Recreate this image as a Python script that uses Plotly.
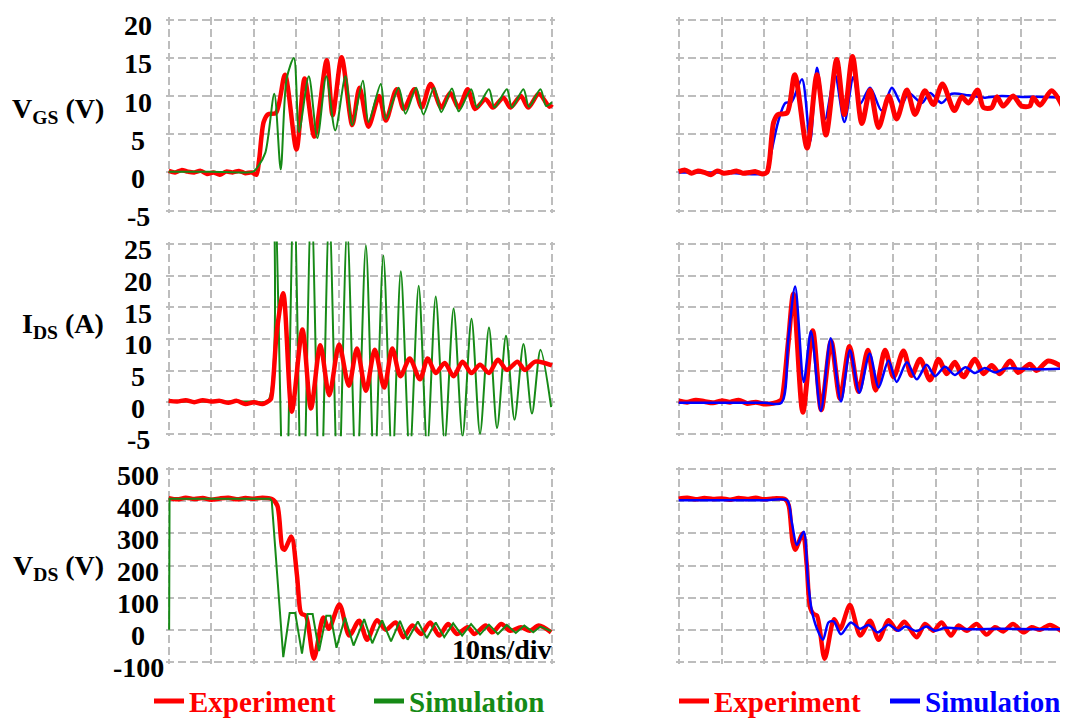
import plotly.graph_objects as go

# ---------------- data (time in ns) ----------------
vgs_ticks = [20, 15, 10, 5, 0, -5]
ids_ticks = [25, 20, 15, 10, 5, 0, -5]
vds_ticks = [500, 400, 300, 200, 100, 0, -100]

exp_vgs_l = [(0, 0.2), (1.5, 0.0), (3, 0.3), (4.5, 0.1), (6, 0.0), (7.5, 0.2), (9, -0.2), (10.5, 0.0),
             (12, -0.3), (13.5, 0.1), (15, 0.0), (16.5, 0.2), (18, -0.1), (19.5, 0.0), (20.6, -0.3),
             (21.2, 1.5), (22.3, 6.6), (23.3, 7.6), (25.2, 7.8), (27.3, 12.8), (30.0, 3.0), (31.9, 12.3),
             (34.2, 4.7), (37.1, 14.7), (38.5, 7.5), (40.6, 15.1), (43.1, 6.2), (44.8, 11.1), (46.9, 6.0),
             (49.4, 10.0), (51.0, 6.8), (53.5, 10.9), (55.2, 8.3), (57.7, 10.9), (59.4, 8.5), (61.5, 11.6),
             (64.0, 8.5), (66.1, 10.4), (68.1, 8.5), (70.2, 10.9), (71.9, 8.3), (74.4, 9.6), (76.1, 8.5),
             (78.6, 9.8), (80.2, 8.5), (82.7, 10.0), (84.4, 8.5), (86.9, 10.3), (89.4, 8.6), (90, 8.9)]

sim_vgs_l = [(0, 0.1), (10, 0.1), (19.8, 0.1), (21.0, 0.8), (22.7, 2.6), (24.8, 10.3), (26.3, 0.4),
             (27.7, 12.3), (29.4, 15.0), (30.6, 5.3), (32.9, 12.6), (34.9, 4.5), (37.0, 12.6), (39.1, 5.5),
             (41.5, 12.6), (43.1, 6.2), (45.6, 12.0), (46.9, 6.6), (49.8, 11.6), (51.0, 7.0), (54.0, 11.1),
             (55.6, 7.7), (58.1, 11.1), (59.8, 7.6), (62.3, 11.1), (64.0, 7.9), (66.5, 11.0), (68.1, 8.0),
             (71.0, 10.9), (72.4, 8.5), (75.2, 10.9), (76.5, 8.5), (79.4, 10.9), (80.6, 8.5), (83.3, 10.9),
             (84.6, 8.6), (87.3, 10.9), (88.6, 8.7), (90, 9.2)]

exp_vgs_r = [(0, 0.1), (1.5, 0.3), (3, -0.1), (4.5, 0.2), (6, 0.0), (7.5, -0.3), (9, 0.2), (10.5, -0.1),
             (12, 0.0), (13.5, 0.2), (15, -0.1), (16.5, 0.0), (18, 0.1), (19.5, -0.2), (20.6, 0.0),
             (21.2, 1.5), (22.2, 6.6), (23.2, 7.6), (25.3, 7.8), (27.1, 12.8), (30.0, 3.2), (32.3, 12.8),
             (34.4, 4.9), (36.9, 14.8), (38.7, 7.6), (40.6, 15.2), (42.8, 6.4), (44.7, 10.8), (46.7, 5.9),
             (49.1, 10.0), (50.9, 7.0), (53.3, 10.8), (55.2, 7.6), (57.5, 10.7), (59.5, 8.9), (61.6, 11.6),
             (64.4, 8.1), (66.1, 9.9), (67.7, 9.1), (69.8, 10.8), (71.2, 8.5), (73.1, 8.5), (74.3, 9.9),
             (75.8, 8.7), (78.1, 10.0), (80.1, 8.7), (82.0, 8.7), (82.8, 9.8), (84.4, 8.8), (87.1, 10.7),
             (89.8, 8.5)]

sim_vgs_r = [(0, 0.0), (10, 0.0), (20.6, 0.0), (21.4, 2.0), (23.3, 6.8), (24.9, 9.1), (26.3, 9.2),
             (28.8, 12.2), (30.7, 4.0), (32.3, 13.7), (34.2, 7.0), (36.5, 12.8), (38.7, 6.6), (40.8, 12.5),
             (42.4, 9.0), (44.7, 11.1), (47.4, 8.1), (49.8, 11.1), (52.1, 8.9), (53.7, 10.4), (56.8, 9.1),
             (58.7, 10.4), (61.4, 9.1), (63.8, 10.3), (67.7, 10.1), (71.5, 9.8), (75.4, 10.0), (79.3, 9.9),
             (83.2, 9.9), (90, 9.8)]

exp_ids_l = [(0, 0.2), (2, 0.1), (4, 0.3), (6, 0.0), (8, 0.3), (10, 0.1), (12, 0.2), (14, -0.1), (16, 0.2),
             (18, -0.3), (20, 0.0), (22, -0.3), (23.5, 0.2), (24.0, 0.5), (25.4, 11.3), (26.9, 17.2),
             (28.9, -1.5), (31.4, 11.5), (33.4, -1.0), (35.6, 9.0), (37.7, 1.1), (40.0, 9.1), (42.3, 2.6),
             (44.2, 8.5), (46.3, 1.8), (48.4, 8.3), (50.6, 2.3), (52.5, 8.5), (54.4, 4.1), (56.6, 6.9),
             (59.0, 3.6), (60.8, 6.9), (62.7, 4.6), (64.8, 6.2), (66.9, 4.1), (69.0, 6.4), (71.1, 4.6),
             (73.1, 5.9), (75.2, 4.6), (77.3, 6.7), (79.4, 5.1), (81.9, 6.4), (83.6, 5.1), (86.1, 6.4),
             (90, 5.8)]

sim_ids_l = [(0, 0.1), (10, 0.1), (20, 0.1), (23.3, 0.2), (24.8, 36), (27.3, -25), (29.4, 34), (31.4, -22),
             (33.5, 32), (35.6, -19), (37.7, 30), (39.8, -16), (41.9, 27.5), (44.1, -14), (46.3, 24.8),
             (48.3, -12), (50.4, 23.2), (52.5, -10), (54.5, 20.7), (56.6, -8.5), (58.7, 18.4), (60.7, -7.2),
             (62.7, 16.7), (64.8, -6.2), (66.9, 14.8), (69.0, -5.4), (71.1, 13.2), (73.1, -5.0), (75.2, 11.8),
             (77.1, -4.1), (79.2, 10.5), (81.2, -2.8), (83.3, 9.2), (85.3, -1.8), (87.3, 8.3), (89.8, -0.8)]

exp_ids_r = [(0, 0.2), (2, 0.0), (4, 0.3), (6, 0.1), (8, -0.1), (10, 0.2), (12, 0.0), (14, 0.3), (16, -0.2),
             (18, 0.0), (20, -0.3), (22, -0.2), (23.7, 0.2), (24.1, 0.5), (25.6, 9.5), (26.8, 17.1),
             (29.0, -1.6), (31.3, 11.3), (33.3, -1.2), (35.6, 9.6), (37.7, 0.6), (39.9, 8.8), (42.0, 1.7),
             (44.2, 8.2), (46.0, 1.9), (48.2, 8.2), (50.2, 4.0), (52.5, 8.1), (54.4, 4.2), (56.4, 6.8),
             (58.7, 3.5), (60.7, 6.8), (62.6, 4.5), (64.5, 6.3), (66.5, 4.0), (69.2, 6.8), (71.2, 4.5),
             (73.1, 5.8), (75.0, 4.5), (77.4, 6.5), (79.3, 4.7), (82.0, 6.0), (83.6, 5.0), (86.3, 6.5),
             (89.8, 5.5)]

sim_ids_r = [(0, -0.1), (10, -0.1), (20, -0.1), (24.0, -0.1), (25.6, 10.0), (27.2, 18.3), (29.2, 3.2),
             (30.9, 11.2), (33.2, -1.4), (35.5, 10.1), (37.9, 0.1), (40.0, 8.2), (42.2, 1.5), (44.6, 7.7),
             (46.7, 2.3), (49.0, 6.6), (50.9, 3.2), (53.3, 6.3), (55.6, 3.6), (57.9, 5.9), (59.9, 4.1),
             (62.2, 5.6), (64.5, 4.3), (67.0, 5.5), (69.2, 4.6), (71.5, 5.4), (73.9, 4.7), (76.2, 5.3),
             (83.2, 5.2), (90, 5.3)]

exp_vds_l = [(0, 410), (2, 406), (4, 411), (6, 407), (8, 410), (10, 405), (12, 409), (14, 411), (16, 406),
             (18, 410), (20, 408), (22, 411), (24.2, 407), (25.5, 387), (26.7, 254), (27.2, 249), (28.8, 290),
             (30.1, 172), (30.9, 59), (31.3, 49), (32.2, 44), (34.1, -90), (36.3, 38), (37.6, 3), (40.1, 79),
             (42.4, -18), (44.7, 28), (46.6, -31), (48.9, 30), (51.0, 0), (53.3, 23), (55.1, -23), (57.2, 13),
             (59.3, -13), (61.4, 23), (63.5, -18), (65.6, 18), (67.7, -13), (70.2, 8), (71.8, -13), (74.4, 13),
             (76.0, -8), (78.1, 18), (80.2, -3), (82.7, 8), (84.8, -3), (86.9, 13), (89.8, -8)]

sim_vds_l = [(0.1, 0), (0.2, 408), (10, 408), (20, 408), (23.8, 408), (24.2, 400), (26.9, -85), (28.4, 52),
             (29.7, 52), (31.3, -74), (32.6, 49), (33.8, 49), (35.3, -66), (37.0, 44), (38.0, 44), (39.4, -56),
             (41.4, 38), (43.4, -49), (45.9, 33), (47.8, -42), (50.1, 30), (52.2, -36), (54.3, 28), (56.1, -31),
             (58.5, 26), (60.6, -26), (62.7, 23), (64.7, -23), (66.8, 20), (68.9, -18), (71.0, 18), (73.1, -15),
             (75.2, 16), (77.3, -13), (79.4, 15), (81.5, -10), (83.5, 13), (85.6, -8), (87.3, 10), (89.8, -4)]

exp_vds_r = [(0, 408), (2, 411), (4, 406), (6, 410), (8, 407), (10, 409), (12, 405), (14, 410), (16, 407),
             (18, 411), (20, 406), (22, 409), (24.9, 406), (25.7, 387), (26.6, 274), (27.2, 249), (29.0, 300),
             (29.9, 203), (30.7, 69), (31.5, 49), (32.3, 44), (34.1, -90), (36.3, 33), (37.7, 3), (40.0, 77),
             (42.4, -18), (44.7, 28), (46.7, -31), (49.0, 30), (50.9, 0), (52.7, 25), (55.6, -23), (57.5, 18),
             (59.5, -3), (61.4, 23), (63.6, -18), (65.3, 13), (67.3, -3), (69.6, 18), (71.9, -15), (73.9, 8),
             (75.8, -5), (78.1, 18), (80.5, -8), (82.4, 8), (84.4, 0), (86.7, 15), (89.8, -8)]

sim_vds_r = [(0, 403), (10, 403), (20, 403), (25.3, 403), (26.4, 336), (27.6, 264), (29.2, 305), (30.2, 151),
             (31.1, 59), (32.3, 3), (33.7, -31), (35.0, 23), (36.2, 26), (37.9, -14), (40.2, 23), (42.4, 3),
             (44.3, 15), (46.5, -8), (49.0, 16), (51.3, -3), (52.9, 10), (55.6, -4), (57.9, 10), (59.9, -3),
             (62.2, 6), (67.7, 2), (75.4, 3), (83.2, 2), (90, 2)]

# ---------------- styling ----------------
FONT = "Liberation Serif, Times New Roman, serif"
RED, GREEN, BLUE = "#ff0000", "#168a16", "#0000ff"
GRID = "#bdbdbd"
W, H = 1068, 719
PADPX = 2.5  # keep the edge grid lines (panel borders) inside the plot area


def px_x(p):
    return p / W


def px_y(p):
    return 1 - p / H


def xy(pairs):
    return [p[0] for p in pairs], [p[1] for p in pairs]


fig = go.Figure()


def add(pairs, n, color, width, shape="spline"):
    t, v = xy(pairs)
    line = dict(color=color, width=width, shape=shape)
    if shape == "spline":
        line["smoothing"] = 0.8
    fig.add_trace(go.Scatter(x=t, y=v, mode="lines", line=line,
                             xaxis="x" if n == 1 else f"x{n}", yaxis="y" if n == 1 else f"y{n}",
                             showlegend=False, hoverinfo="skip"))


# row 1 : VGS
add(exp_vgs_l, 1, RED, 4.5)
add(sim_vgs_l, 1, GREEN, 2)
add(sim_vgs_r, 2, BLUE, 2.5)
add(exp_vgs_r, 2, RED, 5)
# row 2 : IDS
add(sim_ids_l, 3, GREEN, 2)
add(exp_ids_l, 3, RED, 4.5)
add(exp_ids_r, 4, RED, 5)
add(sim_ids_r, 4, BLUE, 2.5)
# row 3 : VDS
add(exp_vds_l, 5, RED, 4.5)
add(sim_vds_l, 5, GREEN, 2, shape="linear")
add(exp_vds_r, 6, RED, 4.5)
add(sim_vds_r, 6, BLUE, 2.5)

# legend-only entries (one legend per entry so each can be placed)
legend_items = [("Experiment", RED, "legend", 141), ("Simulation", GREEN, "legend2", 361),
                ("Experiment", RED, "legend3", 666), ("Simulation", BLUE, "legend4", 877)]
for name, col, lg, _ in legend_items:
    fig.add_trace(go.Scatter(x=[None], y=[None], mode="lines", line=dict(color=col, width=5),
                             name=f'<span style="color:{col}"><b>{name}</b></span>',
                             legend=lg, showlegend=True, xaxis="x5", yaxis="y5"))

xpx = [(160.7, 544.0), (670.7, 1056.0)]
ypx = [(12, 206), (240, 433), (469, 665)]
yranges = [[-5, 20], [-5, 25], [-100, 500]]
ydticks = [5, 5, 100]

axcommon = dict(showgrid=True, gridcolor=GRID, gridwidth=1.6, griddash="8px,4px", zeroline=False,
                showline=False, ticks="", showticklabels=False, fixedrange=True)

layout = dict(width=W, height=H, margin=dict(l=0, r=0, t=0, b=0), paper_bgcolor="white",
              plot_bgcolor="white", font=dict(family=FONT, size=28, color="black"))
for row in range(3):
    for col in range(2):
        n = row * 2 + col + 1
        sfx = "" if n == 1 else str(n)
        x0, x1 = xpx[col]
        xpad = PADPX * 90.0 / (x1 - x0)
        layout[f"xaxis{sfx}"] = dict(axcommon, domain=[px_x(x0 - PADPX), px_x(x1 + PADPX)],
                                     range=[0 - xpad, 90 + xpad], dtick=10, tick0=0,
                                     anchor="y" if n == 1 else f"y{n}")
        y0, y1 = ypx[row]
        yr = yranges[row]
        ypad = PADPX * (yr[1] - yr[0]) / (y1 - y0)
        layout[f"yaxis{sfx}"] = dict(axcommon, domain=[px_y(y1 + PADPX), px_y(y0 - PADPX)],
                                     range=[yr[0] - ypad, yr[1] + ypad], dtick=ydticks[row], tick0=0,
                                     anchor="x" if n == 1 else f"x{n}")

for name, col, lg, xp in legend_items:
    layout[lg] = dict(x=px_x(xp), y=px_y(705), xanchor="left", yanchor="middle",
                      orientation="h", bgcolor="rgba(0,0,0,0)", borderwidth=0, itemwidth=30,
                      font=dict(family=FONT, size=29, color=col))

fig.update_layout(**layout)

annotations = []
# tick labels of the left column (centered at x = 130 px, slightly below the grid lines)
for ticks, yref in [(vgs_ticks, "y"), (ids_ticks, "y3"), (vds_ticks, "y5")]:
    for v in ticks:
        annotations.append(dict(x=px_x(130), xref="paper", y=v, yref=yref, text=f"<b>{v}</b>",
                                showarrow=False, xanchor="center", yanchor="middle", yshift=-6,
                                font=dict(family=FONT, size=28, color="black")))

titles = [("<b>V<sub>GS</sub> (V)</b>", 104), ("<b>I<sub>DS</sub> (A)</b>", 323), ("<b>V<sub>DS</sub> (V)</b>", 569)]
for txt, yp in titles:
    annotations.append(dict(x=px_x(98), xref="paper", y=px_y(yp), yref="paper", text=txt,
                            showarrow=False, xanchor="right", yanchor="middle",
                            font=dict(family=FONT, size=28, color="black")))

annotations.append(dict(x=px_x(546), xref="paper", y=px_y(652), yref="paper", text="<b>10ns/div</b>",
                        showarrow=False, xanchor="right", yanchor="middle",
                        font=dict(family=FONT, size=28, color="black")))

fig.update_layout(annotations=annotations)
fig.write_html("out.html")
